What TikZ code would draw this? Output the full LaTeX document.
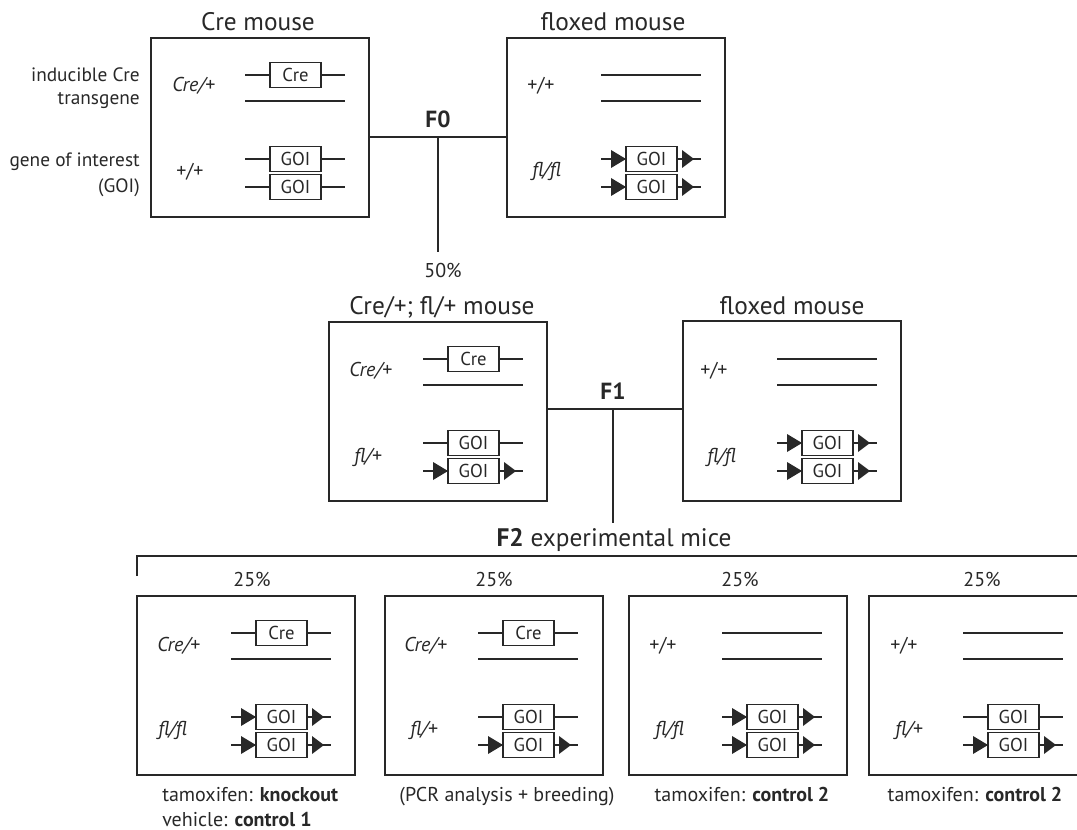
\documentclass[tikz,border=0pt]{standalone}
\usepackage{fontspec}
\setmainfont{PT Sans}
\usetikzlibrary{calc}
\definecolor{ink}{RGB}{40,40,40}
\tikzset{
  every node/.style={text=ink},
  mbox/.style={draw=ink, line width=1.5pt, minimum width=163.5pt, minimum height=134.25pt, inner sep=0pt},
  gbox/.style={draw=ink, line width=1.1pt, minimum width=38.25pt, minimum height=18.75pt, inner sep=0pt, font=\fontsize{14}{16}\selectfont},
  gline/.style={draw=ink, line width=1.4pt},
  conn/.style={draw=ink, line width=1.5pt},
  ttl/.style={anchor=base, inner sep=0pt, font=\fontsize{19}{22}\selectfont},
  lbl/.style={anchor=base, inner sep=0pt, font=\fontsize{15}{18}\selectfont},
  lbll/.style={anchor=base west, inner sep=0pt, font=\fontsize{15}{18}\selectfont},
  lblr/.style={anchor=base east, inner sep=0pt, font=\fontsize{14.5}{17}\selectfont},
  allele/.style={anchor=base west, inner sep=0pt, font=\fontsize{15}{18}\selectfont\itshape},
  wtal/.style={anchor=base west, inner sep=0pt, font=\fontsize{15}{18}\selectfont},
  flbl/.style={anchor=base, inner sep=0pt, font=\fontsize{17.5}{20}\selectfont\bfseries},
}
% plain chromosome line
\newcommand\wl[2]{\draw[gline] (#1,#2) -- ++(100,0);}
% gene with box, plain ends: name, x0, y, text
\newcommand\gn[4]{%
  \node[gbox] (#1) at ({#2+50.5},{#3}) {#4};
  \draw[gline] (#2,#3) -- (#1.west) (#1.east) -- ({#2+100},{#3});}
% floxed gene
\newcommand\fg[4]{%
  \gn{#1}{#2}{#3}{#4}
  \fill[ink] ({#2+10},{#3-9}) -- ({#2+25},{#3}) -- ({#2+10},{#3+9}) -- cycle
             ({#2+81},{#3-9}) -- ({#2+93},{#3}) -- ({#2+81},{#3+9}) -- cycle;}
\begin{document}
\begin{tikzpicture}[x=0.75pt,y=-0.75pt]
\useasboundingbox (0,0) rectangle (1077,830);
\clip (0,0) rectangle (1077,830);

% ---------- F0 ----------
\node[mbox] (cre) at (260,127.5) {};
\node[mbox] (floxA) at (616,127.5) {};
\node[ttl] (tcre) at (258,31) {Cre mouse};
\node[ttl] (tfloxA) at (613,31) {floxed mouse};

\node[lblr] (l1) at (140,82) {inducible Cre};
\node[lblr] (l2) at (140,105) {transgene};
\node[lblr] (l3) at (140,167) {gene of interest};
\node[lblr] (l4) at (140,193) {(GOI)};

\node[allele] (a1) at (172,92) {Cre/+};
\node[wtal] (a2) at (176,178) {+/+};
\gn{c1}{245}{75}{Cre}
\wl{245}{101}
\gn{g1}{245}{159}{GOI}
\gn{g2}{245}{187}{GOI}

\node[wtal] (a3) at (527,92) {+/+};
\node[allele] (a4) at (532,177) {fl/fl};
\wl{601}{75}
\wl{601}{101}
\fg{g3}{601}{159}{GOI}
\fg{g4}{601}{187}{GOI}

\coordinate (f0) at (438,137);
\coordinate (f0end) at (438,252);
\draw[conn] (cre.east |- f0) -- (floxA.west |- f0);
\draw[conn] (f0) -- (f0end);
\node[flbl] (F0) at (438,128) {F0};
\node[lbl] (p50) at (443,278) {50\%};

% ---------- F1 ----------
\node[mbox] (mid) at (438,411.5) {};
\node[mbox] (floxB) at (792,411) {};
\node[ttl] (tmid) at (442,315) {Cre/+; fl/+ mouse};
\node[ttl] (tfloxB) at (792,315) {floxed mouse};

\node[allele] (a5) at (349,376) {Cre/+};
\node[allele] (a6) at (354,462) {fl/+};
\gn{c2}{423}{359}{Cre}
\wl{423}{385}
\gn{g5}{423}{443}{GOI}
\fg{g6}{423}{471}{GOI}

\node[wtal] (a7) at (700,376) {+/+};
\node[allele] (a8) at (707,462) {fl/fl};
\wl{777}{359}
\wl{777}{385}
\fg{g7}{777}{443}{GOI}
\fg{g8}{777}{471}{GOI}

\coordinate (f1) at (613,409);
\coordinate (f1end) at (613,523);
\draw[conn] (mid.east |- f1) -- (floxB.west |- f1);
\draw[conn] (f1) -- (f1end);
\node[flbl] (F1) at (613,399) {F1};

% ---------- F2 ----------
\node[ttl] (tf2) at (614,546) {\textbf{F2} experimental mice};
\coordinate (brt) at (137,576);
\coordinate (brl) at (137,556);
\coordinate (brr) at (1090,556);
\draw[conn] (brt) -- (brl) -- (brr);

\node[mbox] (b1) at (246,685.5) {};
\node[mbox] (b2) at (493.5,685.5) {};
\node[mbox] (b3) at (737.5,685.5) {};
\node[mbox] (b4) at (978,685.5) {};
\node[lbl] (p1) at (252,586) {25\%};
\node[lbl] (p2) at (494,586) {25\%};
\node[lbl] (p3) at (740,586) {25\%};
\node[lbl] (p4) at (982,586) {25\%};

% box 1
\node[allele] (a9) at (157,651) {Cre/+};
\node[allele] (a10) at (158,735) {fl/fl};
\gn{c3}{231}{633}{Cre}
\wl{231}{659}
\fg{g9}{231}{717}{GOI}
\fg{g10}{231}{745}{GOI}
% box 2
\node[allele] (a11) at (404,651) {Cre/+};
\node[allele] (a12) at (410,735) {fl/+};
\gn{c4}{478}{633}{Cre}
\wl{478}{659}
\gn{g11}{478}{717}{GOI}
\fg{g12}{478}{745}{GOI}
% box 3
\node[wtal] (a13) at (649,651) {+/+};
\node[allele] (a14) at (655,735) {fl/fl};
\wl{722}{633}
\wl{722}{659}
\fg{g13}{722}{717}{GOI}
\fg{g14}{722}{745}{GOI}
% box 4
\node[wtal] (a15) at (890,651) {+/+};
\node[allele] (a16) at (895,735) {fl/+};
\wl{963}{633}
\wl{963}{659}
\gn{g15}{963}{717}{GOI}
\fg{g16}{963}{745}{GOI}

% captions
\node[lbll] (k1) at (162,801) {tamoxifen: \textbf{knockout}};
\node[lbll] (k2) at (162,826) {vehicle: \textbf{control 1}};
\node[lbl] (k3) at (507,801) {(PCR analysis + breeding)};
\node[lbl] (k4) at (742,801) {tamoxifen: \textbf{control 2}};
\node[lbl] (k5) at (975,801) {tamoxifen: \textbf{control 2}};
\end{tikzpicture}
\end{document}
